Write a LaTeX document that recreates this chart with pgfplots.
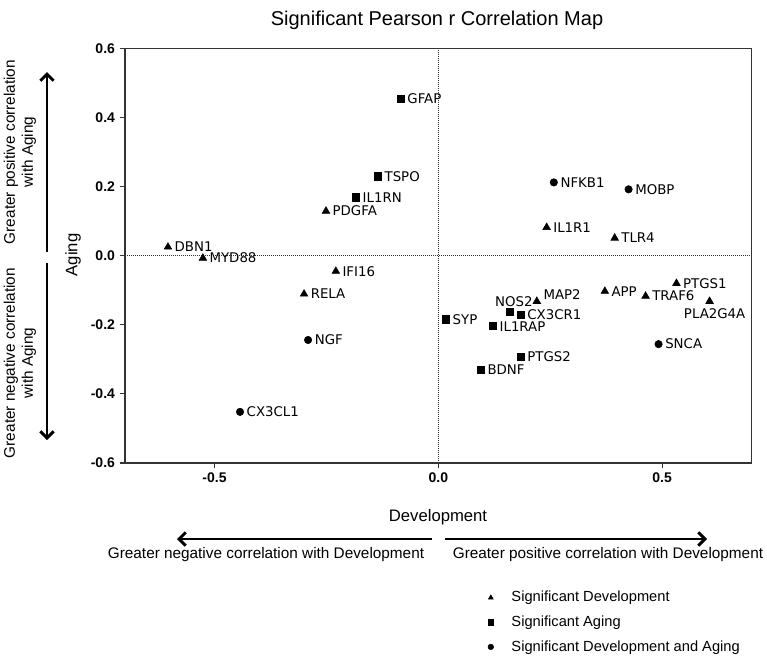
\documentclass[border=0pt]{standalone}
\usepackage{fontspec}
\setmainfont{Liberation Sans}
\newfontfamily\lab{DejaVu Sans}
\usepackage{pgfplots}
\pgfplotsset{compat=1.18}
\usetikzlibrary{arrows.meta}

\pgfplotstableread{
x y label
-0.251 0.129 PDGFA
-0.604 0.025 DBN1
-0.526 -0.007 MYD88
-0.229 -0.045 IFI16
-0.300 -0.111 RELA
0.242 0.082 IL1R1
0.394 0.051 TLR4
0.532 -0.080 PTGS1
0.372 -0.103 APP
0.463 -0.117 TRAF6
}\devtab
\pgfplotstableread{
x y label
-0.084 0.455 GFAP
-0.135 0.230 TSPO
-0.184 0.169 IL1RN
0.184 -0.172 CX3CR1
0.017 -0.184 SYP
0.122 -0.204 IL1RAP
0.184 -0.293 PTGS2
0.095 -0.331 BDNF
}\agetab
\pgfplotstableread{
x y label
0.258 0.212 NFKB1
0.425 0.192 MOBP
-0.291 -0.244 NGF
-0.443 -0.452 CX3CL1
0.492 -0.256 SNCA
}\bothtab

\begin{document}
\begin{tikzpicture}
\begin{axis}[name=ax, at={(0,0)}, anchor=south west,
  scale only axis, width=470pt, height=311pt,
  xmin=-0.7, xmax=0.7, ymin=-0.6, ymax=0.6,
  xtick={-0.5,0,0.5}, ytick={-0.6,-0.4,-0.2,0,0.2,0.4,0.6},
  tick align=outside, tick pos=left, major tick length=4pt,
  axis line style={black!80, line width=0.8pt},
  tick style={black!80, line width=0.8pt},
  /pgf/number format/.cd, fixed, fixed zerofill, precision=1, assume math mode=true,
  /pgfplots/.cd,
  tick label style={font=\bfseries\fontsize{10.5}{12}\selectfont},
  clip=false,
  legend style={at={(0.561,-0.296)}, anchor=north west, draw=none, fill=none,
    font=\fontsize{11}{13}\selectfont, row sep=5pt},
  legend cell align=left,
  legend image code/.code={\path[draw=none, fill=none] (0pt,0pt) -- (21pt,0pt); \draw[#1, mark size=2.1pt] plot coordinates {(7.5pt,0pt)};},
  every node near coord/.append style={anchor=west, xshift=1.5pt, font=\lab\fontsize{10}{12}\selectfont, text=black},
]
\draw[densely dotted, black!80, line width=0.5pt] (axis cs:0,-0.6) -- (axis cs:0,0.6);
\draw[densely dotted, black!80, line width=0.5pt] (axis cs:-0.7,0) -- (axis cs:0.7,0);

\addplot[only marks, mark=triangle*, mark size=3.3pt, black, nodes near coords, point meta=explicit symbolic]
  table[x=x, y=y, meta=label] {\devtab};
\addlegendentry{Significant Development}
\addplot[only marks, mark=square*, mark size=2.7pt, black, nodes near coords, point meta=explicit symbolic]
  table[x=x, y=y, meta=label] {\agetab};
\addlegendentry{Significant Aging}
\addplot[only marks, mark=*, mark size=2.8pt, black, nodes near coords, point meta=explicit symbolic]
  table[x=x, y=y, meta=label] {\bothtab};
\addlegendentry{Significant Development and Aging}

% points with labels placed differently
\addplot[forget plot, only marks, mark=triangle*, mark size=3.3pt, black, nodes near coords, point meta=explicit symbolic,
  every node near coord/.append style={yshift=5pt}]
  table[meta=label] {
x y label
0.220 -0.132 MAP2
};
\addplot[forget plot, only marks, mark=triangle*, mark size=3.3pt, black, nodes near coords, point meta=explicit symbolic,
  every node near coord/.append style={anchor=center, xshift=2.3pt, yshift=-9pt}]
  table[meta=label] {
x y label
0.606 -0.132 PLA2G4A
};
\addplot[forget plot, only marks, mark=square*, mark size=2.7pt, black, nodes near coords, point meta=explicit symbolic,
  every node near coord/.append style={anchor=center, xshift=1.5pt, yshift=7.5pt}]
  table[meta=label] {
x y label
0.160 -0.163 NOS2
};
\end{axis}

\begin{scope}[shift={(ax.south west)}, x=0.75pt, y=-0.75pt, shift={(-125,-463)}]
\node[font=\fontsize{15}{18}\selectfont] at (437,20) {Significant Pearson r Correlation Map};
\node[font=\fontsize{12.5}{15}\selectfont] at (438,517) {Development};
\node[font=\fontsize{12.5}{15}\selectfont, rotate=90] at (73,255) {Aging};
\draw[line width=2.2pt, -{Straight Barb[length=5pt,width=10pt]}] (432,539) -- (177,539);
\draw[line width=2.2pt, -{Straight Barb[length=5pt,width=10pt]}] (445,539) -- (707,539);
\draw[line width=2.2pt, -{Straight Barb[length=5pt,width=10pt]}] (47,252) -- (47,72);
\draw[line width=2.2pt, -{Straight Barb[length=5pt,width=10pt]}] (47,263) -- (47,440);
\node[font=\fontsize{11.5}{13}\selectfont] at (266,555) {Greater negative correlation with Development};
\node[font=\fontsize{11.5}{13}\selectfont] at (608,555) {Greater positive correlation with Development};
\node[font=\fontsize{11.5}{13.5}\selectfont, rotate=90, align=center] at (20,152) {Greater positive correlation\\with Aging};
\node[font=\fontsize{11.5}{13.5}\selectfont, rotate=90, align=center] at (20,363) {Greater negative correlation\\with Aging};
\pgfresetboundingbox
\useasboundingbox (0,0) rectangle (767,658);
\end{scope}
\end{tikzpicture}
\end{document}
